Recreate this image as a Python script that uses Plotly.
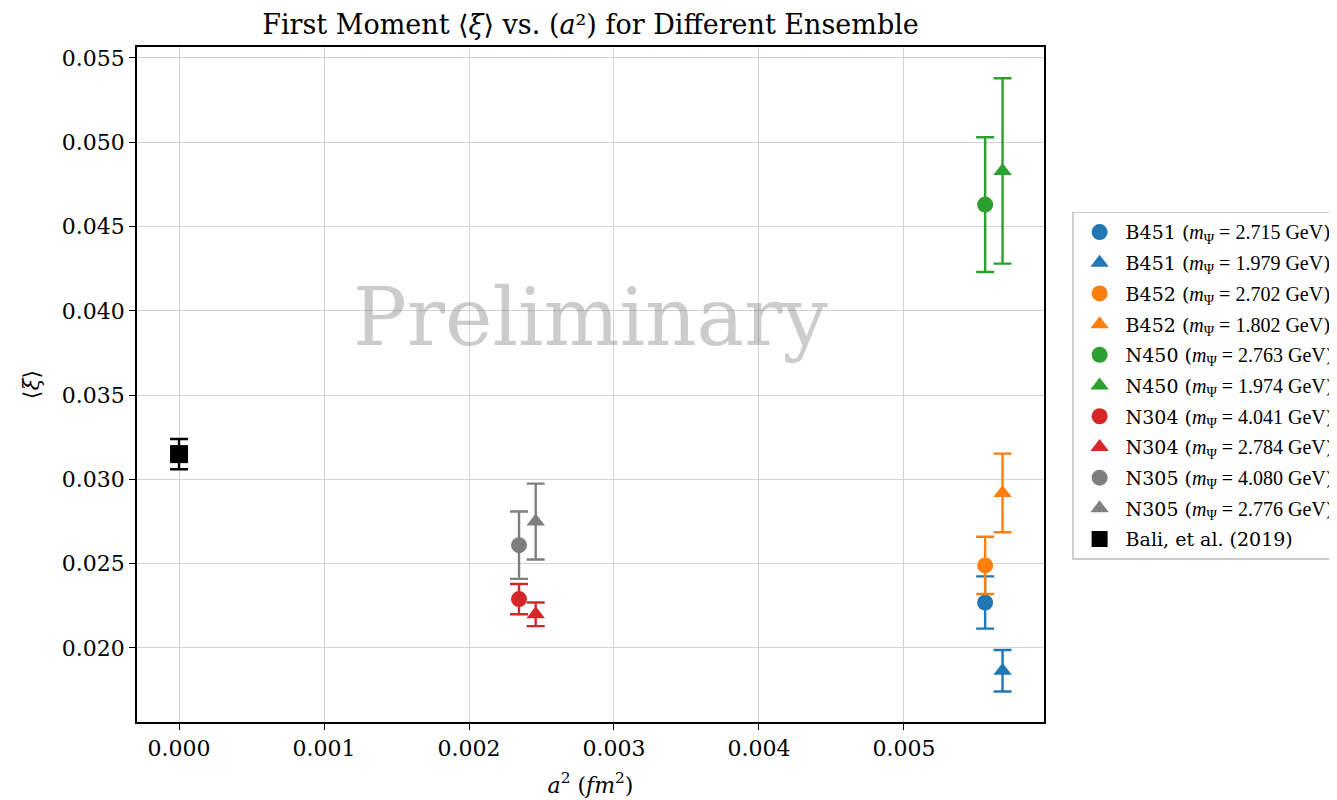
import plotly.graph_objects as go

# ---- data ----
masses = ["2.715", "1.979", "2.702", "1.802", "2.763", "1.974",
          "4.041", "2.784", "4.080", "2.776"]
ensembles = ["B451", "B451", "B452", "B452", "N450", "N450",
             "N304", "N304", "N305", "N305"]
names = [f"{e} (<span style=\"font-family:Liberation Serif;font-size:20px\"><i>m</i><sub>Ψ</sub> = {m} GeV</span>)"
         for e, m in zip(ensembles, masses)]
names.append("Bali, et al. (2019)")

a2_values = [0.00556, 0.00568, 0.00556, 0.00568, 0.00556, 0.00568,
             0.002345, 0.00246, 0.002345, 0.00246, 0.0]
xi_values = [0.0227, 0.01865, 0.0249, 0.0292, 0.0463, 0.0483,
             0.0229, 0.0220, 0.0261, 0.0275, 0.0315]
xi_errors = [0.00155, 0.00123, 0.0017, 0.00233, 0.0040, 0.0055,
             0.0009, 0.0007, 0.0020, 0.00225, 0.0009]
colors = ["#1f77b4", "#1f77b4", "#ff7f0e", "#ff7f0e", "#2ca02c", "#2ca02c",
          "#d62728", "#d62728", "#7f7f7f", "#7f7f7f", "#000000"]
symbols = ["circle", "triangle-up"] * 5 + ["square"]

x_ticks = [0.000, 0.001, 0.002, 0.003, 0.004, 0.005]
y_ticks = [0.020, 0.025, 0.030, 0.035, 0.040, 0.045, 0.050, 0.055]

FONT = "DejaVu Serif"
msize = {"circle": 16, "triangle-up": 16, "square": 18}

fig = go.Figure()
for i, nm in enumerate(names):
    fig.add_trace(go.Scatter(
        x=[a2_values[i]], y=[xi_values[i]],
        mode="markers",
        name=nm,
        legendgroup=f"g{i}",
        marker=dict(symbol=symbols[i], color=colors[i], size=msize[symbols[i]],
                    line=dict(width=0)),
        error_y=dict(type="data", array=[xi_errors[i]], visible=True,
                     color=colors[i], thickness=2.4, width=9),
    ))

fig.add_annotation(
    text="Preliminary", xref="x domain", yref="y domain", x=0.5, y=0.6,
    showarrow=False, font=dict(family=FONT, size=80, color="rgba(128,128,128,0.4)"),
    xanchor="center", yanchor="middle",
)

# page body has an 8px default margin; plot area targets (137..1044, 47..722)
fig.update_layout(
    width=1337, height=800,
    paper_bgcolor="white", plot_bgcolor="white",
    margin=dict(l=129, r=301, t=39, b=86, autoexpand=False),
    font=dict(family=FONT, size=22, color="black"),
    title=dict(text="First Moment ⟨<i>ξ</i>⟩ vs. (<i>a</i>²) for Different Ensemble",
               x=(129 + 1036) / 2 / 1337, xanchor="center", y=1 - 17 / 800, yanchor="middle",
               font=dict(family=FONT, size=27)),
    showlegend=True,
    legend=dict(x=1.031, xanchor="left", y=0.756, yanchor="top",
                bgcolor="white", bordercolor="#cccccc", borderwidth=1.5,
                font=dict(family=FONT, size=19), tracegroupgap=3,
                itemsizing="trace", itemwidth=42),
    xaxis=dict(range=[-0.00029, 0.005966], tickvals=x_ticks,
               ticktext=[f"{v:.3f}" for v in x_ticks],
               showgrid=True, gridcolor="#d3d3d3", gridwidth=1.2,
               showline=True, linecolor="black", linewidth=1.5, mirror=True,
               ticks="outside", ticklen=6, tickwidth=1.3, tickcolor="black",
               zeroline=False, tickfont=dict(size=22),
               title=dict(text="<i>a</i><sup>2</sup> (<i>fm</i><sup>2</sup>)", standoff=17,
                          font=dict(family=FONT, size=22))),
    yaxis=dict(range=[0.01561, 0.05565], tickvals=y_ticks,
               ticktext=[f"{v:.3f}" for v in y_ticks],
               showgrid=True, gridcolor="#d3d3d3", gridwidth=1.2,
               showline=True, linecolor="black", linewidth=1.5, mirror=True,
               ticks="outside", ticklen=6, tickwidth=1.3, tickcolor="black",
               zeroline=False, tickfont=dict(size=22),
               title=dict(text="⟨<i>ξ</i>⟩", standoff=16,
                          font=dict(family=FONT, size=22))),
)

fig.write_html("out.html")
